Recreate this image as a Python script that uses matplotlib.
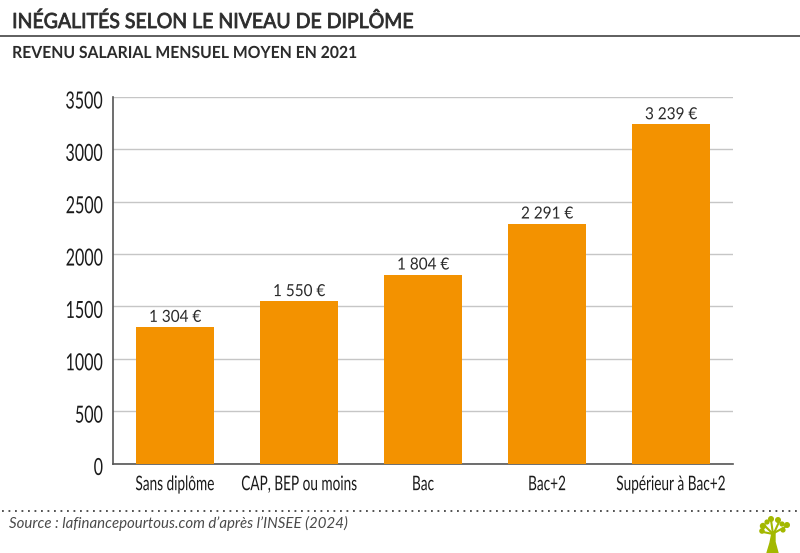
import matplotlib
matplotlib.use("Agg")
import matplotlib.pyplot as plt
from matplotlib.patches import Circle, Polygon
from matplotlib.lines import Line2D
from matplotlib.patheffects import AbstractPathEffect
from matplotlib.transforms import Affine2D, ScaledTranslation

categories = ["Sans diplôme", "CAP, BEP ou moins", "Bac", "Bac+2", "Supérieur à Bac+2"]
values = [1304, 1550, 1804, 2291, 3239]
value_labels = ["1 304 €", "1 550 €", "1 804 €", "2 291 €", "3 239 €"]
y_ticks = [0, 500, 1000, 1500, 2000, 2500, 3000, 3500]

W, H = 800, 553
DARK = "#2b2b2b"
ORANGE = "#f39200"
FONT = "Lato"


class Squeeze(AbstractPathEffect):
    """Rescale a text about an anchor on its baseline; optional stroke for weight."""

    def __init__(self, sx, anchor=0.0, stroke=0.0, sy=1.0):
        super().__init__()
        self.sx, self.anchor, self.stroke, self.sy = sx, anchor, stroke, sy

    def draw_path(self, renderer, gc, tpath, affine, rgbFace=None):
        ext = tpath.get_extents()
        ref = ext.x0 + self.anchor * ext.width
        t = Affine2D().translate(-ref, 0).scale(self.sx, self.sy).translate(ref, 0) + affine
        gc0 = renderer.new_gc()
        gc0.copy_properties(gc)
        if self.stroke:
            gc0.set_linewidth(self.stroke)
            gc0.set_foreground(rgbFace)
        else:
            gc0.set_linewidth(0)
        renderer.draw_path(gc0, tpath, t, rgbFace)
        gc0.restore()


fig = plt.figure(figsize=(W / 100, H / 100), dpi=100, facecolor="white")
ax = fig.add_axes([113 / W, 1 - 463.5 / H, 620 / W, 366.5 / H])
ax.bar(range(5), values, width=0.635, color=ORANGE, zorder=3)
ax.set_xlim(-0.5, 4.5)
ax.set_ylim(0, 3500)
ax.set_yticks(y_ticks)
ax.set_xticks(range(5))
ax.set_xticklabels(categories, fontsize=10, family=FONT, color="#1a1a1a")
ax.set_yticklabels([str(t) for t in y_ticks], fontsize=17, family=FONT, color="#1a1a1a")
ax.tick_params(axis="both", length=0)
ax.tick_params(axis="x", pad=12)
ax.tick_params(axis="y", pad=7)
for lab in ax.get_xticklabels():
    lab.set_path_effects([Squeeze(0.98, 0.5, sy=1.45)])
for lab in ax.get_yticklabels():
    lab.set_path_effects([Squeeze(0.68, 1.0)])
    lab.set_transform(lab.get_transform() + ScaledTranslation(0, -3 / 100, fig.dpi_scale_trans))
ax.grid(axis="y", color="#c6c6c6", lw=1, zorder=0)
ax.set_axisbelow(True)
for s in ("top", "right"):
    ax.spines[s].set_visible(False)
for s in ("left", "bottom"):
    ax.spines[s].set_color("#555555")
    ax.spines[s].set_linewidth(1.2)
for i, (v, lab) in enumerate(zip(values, value_labels)):
    ax.annotate(lab, (i, v), xytext=(0, 1.5), textcoords="offset points", ha="center", va="bottom",
                fontsize=12, family=FONT, color="#2a2a2a", path_effects=[Squeeze(0.92, 0.5)])

fig.text(12 / W, 1 - 22 / H, "INÉGALITÉS SELON LE NIVEAU DE DIPLÔME", fontsize=15, family=FONT,
         color=DARK, va="center", ha="left", path_effects=[Squeeze(0.935, 0.0, stroke=0.6)])
fig.text(12 / W, 1 - 53 / H, "REVENU SALARIAL MENSUEL MOYEN EN 2021", fontsize=12, weight="bold",
         family=FONT, color=DARK, va="center", ha="left", path_effects=[Squeeze(0.945, 0.0)])
fig.text(9 / W, 1 - 523 / H, "Source : lafinancepourtous.com d’après l’INSEE (2024)", fontsize=10.8,
         style="italic", family=FONT, color="#4a4a4a", va="center", ha="left")

fig.add_artist(Line2D([0, 1], [1 - 36 / H] * 2, color="#333333", lw=1.1))
fig.add_artist(Line2D([2 / W, 1], [1 - 510.5 / H] * 2, color="#444444", lw=1.3, ls=(0, (1, 2.6))))

# logo
logo = fig.add_axes([0, 0, 1, 1], facecolor="none", zorder=5)
logo.set_xlim(0, W)
logo.set_ylim(H, 0)
logo.axis("off")
GREEN = "#a3b800"
logo.add_patch(Polygon([(767, 553), (770, 543), (772, 533), (775, 531), (775, 542), (778, 553)], color=GREEN))
for (a, b) in [((773, 534), (765, 526)), ((773, 534), (771, 520)), ((774, 533), (779, 522)),
               ((774, 533), (785, 527)), ((773, 534), (763, 532))]:
    logo.plot([a[0], b[0]], [a[1], b[1]], color=GREEN, lw=1.5, solid_capstyle="round")
for (x, y, r) in [(762, 531, 2.8), (763, 526, 3.2), (767, 522, 2.6), (771, 519, 3.0), (778, 520, 3.0),
                  (782, 524, 2.6), (787, 525, 3.0), (783, 530, 2.6)]:
    logo.add_patch(Circle((x, y), r, color=GREEN, lw=0))

fig.savefig("out.png", dpi=100)
